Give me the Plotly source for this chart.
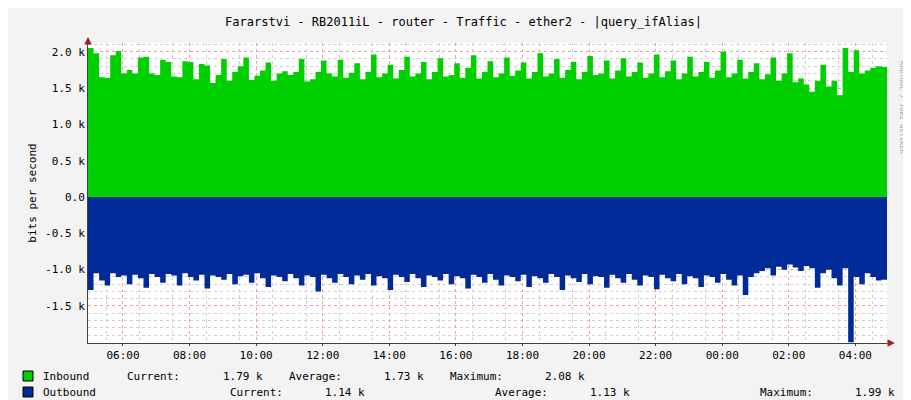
import plotly.graph_objects as go
from datetime import datetime, timedelta

start = datetime(2024, 1, 1, 4, 57)
step_min = 10
inbound_k = [2.05,1.98,1.65,1.64,1.95,2.01,1.70,1.75,1.70,1.92,1.93,1.70,
 1.68,1.89,1.86,1.66,1.65,1.87,1.86,1.62,1.83,1.81,1.57,1.68,
 1.90,1.60,1.72,1.80,1.92,1.61,1.67,1.74,1.85,1.60,1.70,1.73,
 1.68,1.72,1.90,1.59,1.62,1.72,1.88,1.70,1.66,1.89,1.64,1.71,
 1.84,1.62,1.72,1.96,1.65,1.70,1.82,1.63,1.75,1.93,1.66,1.70,
 1.86,1.62,1.72,1.91,1.66,1.68,1.84,1.64,1.78,1.95,1.63,1.72,
 1.87,1.65,1.70,1.92,1.67,1.74,1.85,1.63,1.72,1.98,1.66,1.70,
 1.90,1.64,1.75,1.86,1.62,1.72,1.94,1.68,1.70,1.88,1.63,1.74,
 1.91,1.66,1.72,1.85,1.64,1.70,1.96,1.65,1.73,1.88,1.62,1.70,
 1.93,1.66,1.72,1.86,1.64,1.74,2.00,1.65,1.70,1.89,1.63,1.72,
 1.84,1.62,1.69,1.92,1.60,1.70,1.98,1.58,1.63,1.55,1.45,1.60,
 1.82,1.52,1.60,1.40,2.05,1.72,2.02,1.70,1.74,1.78,1.80,1.79]
outbound_k = [1.28,1.05,1.15,1.22,1.05,1.10,1.08,1.20,1.07,1.12,1.25,1.06,
 1.10,1.18,1.06,1.08,1.22,1.05,1.10,1.15,1.07,1.26,1.08,1.10,
 1.14,1.06,1.20,1.09,1.07,1.18,1.05,1.12,1.24,1.08,1.10,1.16,
 1.06,1.12,1.22,1.08,1.10,1.30,1.07,1.12,1.18,1.06,1.10,1.20,
 1.08,1.14,1.06,1.22,1.09,1.12,1.28,1.07,1.10,1.17,1.06,1.12,
 1.24,1.08,1.10,1.15,1.06,1.20,1.09,1.12,1.26,1.07,1.10,1.18,
 1.06,1.14,1.22,1.08,1.10,1.16,1.07,1.24,1.09,1.12,1.18,1.06,
 1.10,1.28,1.08,1.12,1.17,1.06,1.20,1.09,1.10,1.25,1.07,1.12,
 1.18,1.06,1.14,1.22,1.08,1.10,1.27,1.07,1.12,1.16,1.06,1.20,
 1.09,1.12,1.24,1.08,1.10,1.18,1.06,1.14,1.22,1.08,1.35,1.10,
 1.05,1.02,0.98,1.08,0.96,1.00,0.93,0.97,1.02,0.95,0.98,1.25,
 1.05,1.00,1.12,1.22,0.98,2.00,1.10,1.20,1.05,1.10,1.15,1.14]
ytick_vals = [-1500, -1000, -500, 0, 500, 1000, 1500, 2000]
ytick_text = ["-1.5 k", "-1.0 k", "-0.5 k", "0.0", "0.5 k", "1.0 k", "1.5 k", "2.0 k"]
title = "Fararstvi - RB2011iL - router - Traffic - ether2 - |query_ifAlias|"
legend_rows = [
    ("Inbound", "#00CF00", [(33, "Inbound"), (117, "Current:"), (213, "1.79 k"), (279, "Average:"),
                             (374, "1.73 k"), (440, "Maximum:"), (535, "2.08 k")]),
    ("Outbound", "#002A97", [(33, "Outbound"), (220, "Current:"), (315, "1.14 k"), (485, "Average:"),
                              (580, "1.13 k"), (750, "Maximum:"), (845, "1.99 k")]),
]

times = [start + timedelta(minutes=step_min * i) for i in range(len(inbound_k))]
x_end = start + timedelta(minutes=step_min * len(inbound_k))
times_ext = times + [x_end]

FONT = "DejaVu Sans Mono"
L, R, T, B = 80, 32, 35, 65
W, H = 911, 400
PW, PH = W - L - R, H - T - B

def px(x): return (x - L) / PW
def py(y): return (H - B - y) / PH

fig = go.Figure()
fig.add_trace(go.Scatter(x=times_ext, y=[v * 1000 for v in inbound_k] + [inbound_k[-1] * 1000],
                         mode="lines", line=dict(shape="hv", width=0, color="#00CF00"),
                         fill="tozeroy", fillcolor="#00CF00", hoverinfo="skip"))
fig.add_trace(go.Scatter(x=times_ext, y=[-v * 1000 for v in outbound_k] + [-outbound_k[-1] * 1000],
                         mode="lines", line=dict(shape="hv", width=0, color="#002A97"),
                         fill="tozeroy", fillcolor="#002A97", hoverinfo="skip"))

fig.update_layout(
    width=W, height=H, margin=dict(l=L, r=R, t=T, b=B),
    paper_bgcolor="#F3F3F3", plot_bgcolor="#FFFFFF", showlegend=False,
    font=dict(family=FONT, size=11, color="#000000"),
    title=dict(text=title, x=0.5, xanchor="center", y=1 - 14 / H, yanchor="middle",
               font=dict(family=FONT, size=12)),
)
fig.update_xaxes(
    range=[start, x_end], type="date", tickformat="%H:%M",
    dtick=2 * 3600 * 1000, tick0=datetime(2024, 1, 1, 6, 0),
    showgrid=True, gridcolor="#F0A0A0", griddash="dot", gridwidth=1,
    minor=dict(dtick=3600 * 1000, tick0=datetime(2024, 1, 1, 5, 30), showgrid=True,
               gridcolor="#D0D0D0", griddash="dot"),
    showline=True, linecolor="#404040", ticks="outside", ticklen=2, tickcolor="#404040",
    tickfont=dict(family=FONT, size=11), zeroline=False, layer="above traces",
)
fig.update_yaxes(
    range=[-2010, 2120], tickvals=ytick_vals, ticktext=ytick_text,
    showgrid=True, gridcolor="#F0A0A0", griddash="dot",
    minor=dict(dtick=100, showgrid=True, gridcolor="#D0D0D0", griddash="dot"),
    showline=True, linecolor="#404040", zeroline=False, layer="above traces",
    title=dict(text="bits per second", font=dict(family=FONT, size=11), standoff=6),
    tickfont=dict(family=FONT, size=11),
)

for name, color, items in legend_rows:
    ycen = 368 if name == "Inbound" else 384
    fig.add_shape(type="rect", xref="paper", yref="paper",
                  x0=px(15), x1=px(25), y0=py(ycen + 5), y1=py(ycen - 5),
                  fillcolor=color, line=dict(color="#000000", width=1))
    for xpos, txt in items:
        fig.add_annotation(x=px(xpos), y=py(ycen), xref="paper", yref="paper",
                           text=txt, showarrow=False, xanchor="left", yanchor="middle",
                           font=dict(family=FONT, size=11))

fig.add_annotation(x=px(900), y=py(100), xref="paper", yref="paper",
                   text="RRDTOOL / TOBI OETIKER", showarrow=False, textangle=90,
                   font=dict(family=FONT, size=7, color="#AAAAAA"), yanchor="middle")
# axis arrowheads
fig.add_annotation(x=px(887), y=0, ax=-9, ay=0, xref="paper", yref="paper",
                   text="", showarrow=True,
                   arrowhead=2, arrowsize=1, arrowwidth=1.5, arrowcolor="#992222")
fig.add_annotation(x=0, y=py(29), ax=0, ay=9, xref="paper", yref="paper",
                   text="", showarrow=True,
                   arrowhead=2, arrowsize=1, arrowwidth=1.5, arrowcolor="#992222")

fig.write_html("out.html")
